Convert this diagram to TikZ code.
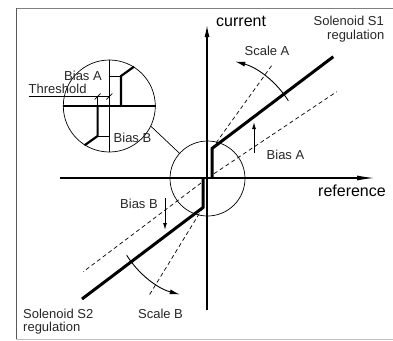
\documentclass[tikz,border=0pt]{standalone}
\usepackage{fontspec}
\setmainfont{Liberation Sans}
\usetikzlibrary{arrows.meta,calc}
\begin{document}
\begin{tikzpicture}[x=1pt,y=-1pt,
  lbl/.style={inner sep=0pt,text=black!85,font=\fontsize{13}{15}\selectfont},
  biglbl/.style={inner sep=0pt,text=black,font=\fontsize{16}{18}\selectfont},
  axisline/.style={line width=1.3pt},
  thinline/.style={line width=0.7pt},
  dashline/.style={line width=0.7pt,dash pattern=on 4pt off 3pt},
  regline/.style={line width=3pt,line join=miter},
  biasarrow/.style={line width=1pt,-{Latex[length=7pt,width=4pt]}},
  scalearrow/.style={line width=0.9pt,-{Latex[length=10pt,width=5pt]}}]
\useasboundingbox (0,0) rectangle (393,340);
% frame
\draw[black!50,line width=0.8pt] (16,8.3) -- (393,8.3);
\draw[black!65,line width=1pt] (16.5,8) -- (16.5,340);
\draw[black!25,line width=0.8pt] (16,339.3) -- (393,339.3);
% axes
\coordinate (xs) at (60,178);
\coordinate (xe) at (375,178);
\coordinate (ys) at (207,310);
\coordinate (ye) at (207,25);
\draw[axisline,-{Latex[length=18pt,width=5pt]}] (xs) -- (xe);
\draw[axisline,-{Latex[length=12pt,width=5pt]}] (ys) -- (ye);
\node[biglbl,anchor=base west] (cur) at (216,27) {current};
\node[biglbl,anchor=base west] (ref) at (318,196) {reference};
% zoom circle
\node[circle,draw,thinline,minimum size=75pt,inner sep=0pt] (zc) at (207.5,178.5) {};
% corners
\coordinate (c1) at (212,148.5);
\coordinate (c2) at (203,207.5);
\coordinate (c1b) at (212,178);
\coordinate (c2b) at (203,178);
\coordinate (s1e) at (333.3,56.7);
\coordinate (s2e) at (82,299);
% dashed lines
\coordinate (da1) at (273.3,63.3);
\coordinate (da2) at (148.3,296.7);
\coordinate (db1s) at (214,173.7);
\coordinate (db1e) at (336.7,91.7);
\coordinate (db2s) at (201,183);
\coordinate (db2e) at (83.3,271.7);
\draw[dashline] (c1) -- (da1);
\draw[dashline] (c2) -- (da2);
\draw[dashline] (db1s) -- (db1e);
\draw[dashline] (db2s) -- (db2e);
% regulation lines
\draw[regline] (c1b) -- (c1) -- (s1e);
\draw[regline] (c2b) -- (c2) -- (s2e);
% scale arcs
\draw[scalearrow] (c1) ++(-32:90) arc[start angle=-32,end angle=-75,radius=90];
\draw[scalearrow] (c2) ++(148:90) arc[start angle=148,end angle=105,radius=90];
% bias arrows
\coordinate (ba1) at (254,153);
\coordinate (ba2) at (254,122);
\coordinate (bb1) at (165,198);
\coordinate (bb2) at (165,230);
\draw[biasarrow] (ba1) -- (ba2);
\draw[biasarrow] (bb1) -- (bb2);
% labels
\node[lbl,anchor=base east] (s1a) at (384,25) {Solenoid S1};
\node[lbl,anchor=base east] (s1b) at (384.5,39) {regulation};
\node[lbl,anchor=base] (sca) at (267,55) {Scale A};
\node[lbl,anchor=base west] (bia) at (266.5,159) {Bias A};
\node[lbl,anchor=base west] (bib) at (120,208) {Bias B};
\node[lbl,anchor=base] (scb) at (160.5,318) {Scale B};
\node[lbl,anchor=base west] (s2a) at (23,318) {Solenoid S2};
\node[lbl,anchor=base west] (s2b) at (23,331) {regulation};
% inset
\node[circle,draw,thinline,minimum size=92pt,inner sep=0pt] (ins) at (109.3,106) {};
\draw[axisline,line width=1.1pt] (ins.north) -- (ins.south);
\draw[axisline,line width=1.1pt] (ins.west) -- (ins.east);
\coordinate (i1b) at (121,106);
\coordinate (i1c) at (121,76);
\coordinate (i1e) at (134,66.7);
\coordinate (i2b) at (97.6,106);
\coordinate (i2c) at (97.6,136);
\coordinate (i2e) at (84.6,145.3);
\coordinate (i2t) at (97.6,96.5);
\draw[regline,line width=2.2pt] (i1b) -- (i1c) -- (i1e);
\draw[regline,line width=2.2pt] (i2b) -- (i2c) -- (i2e);
\draw[thinline] (i1c) -- (ins.center |- i1c);
\draw[thinline] (i2c) -- (ins.center |- i2c);
\draw[thinline] (i2t) -- (i2b);
\coordinate (thl) at (29,96.5);
\coordinate (thr) at (ins.center |- i2t);
\draw[thinline] (thl) -- (thr);
\draw[thinline] ($(i2t)+(-3,3)$) -- ($(i2t)+(3,-3)$);
\draw[thinline] ($(thr)+(-3,3)$) -- ($(thr)+(3,-3)$);
\node[lbl,anchor=base west] (iba) at (64,80) {Bias A};
\node[lbl,anchor=base west] (thlbl) at (28.5,93) {Threshold};
\node[lbl,anchor=base west] (ibb) at (113.5,142) {Bias B};
% connector
\draw[thinline] (ins.-26) -- (zc.138);
\end{tikzpicture}
\end{document}
